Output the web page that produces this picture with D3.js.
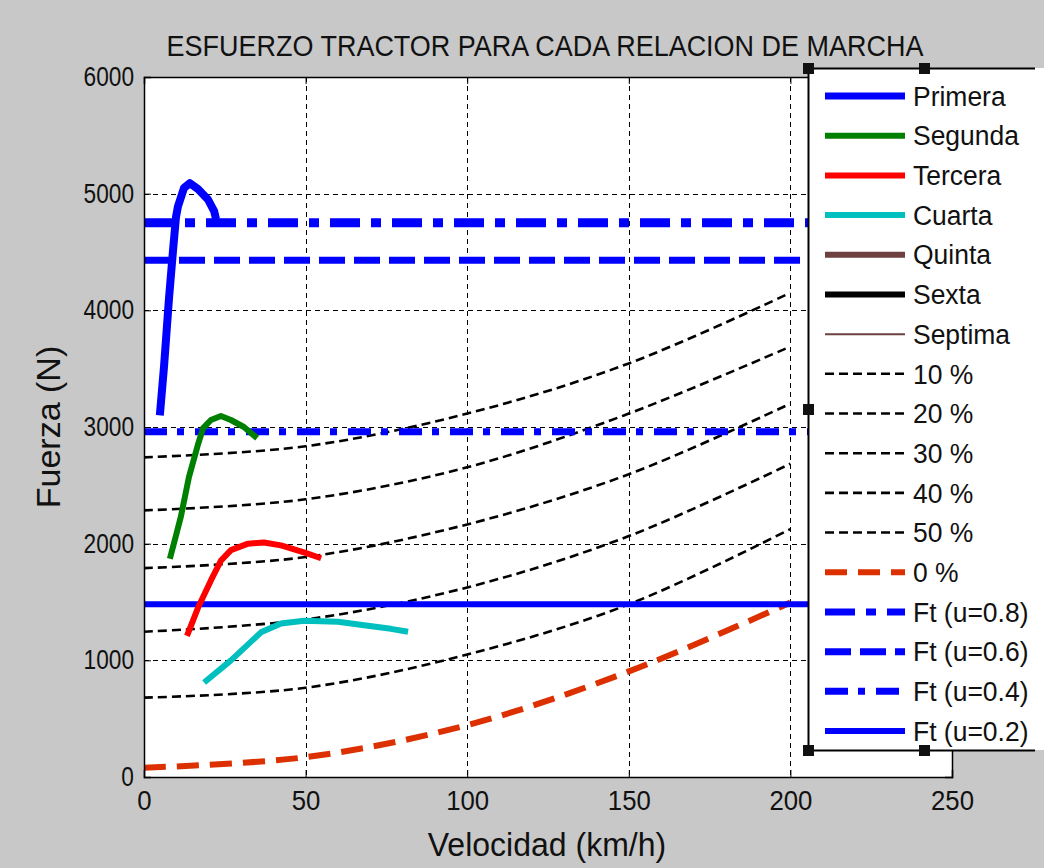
<!DOCTYPE html>
<html>
<head>
<meta charset="utf-8">
<script src="https://cdn.jsdelivr.net/npm/d3@7"></script>
<style>
  body { margin: 0; background: #c8c8c8; }
  svg { display: block; }
  text { font-family: "Liberation Sans", Arial, Helvetica, sans-serif; fill: #111; }
</style>
</head>
<body>
<div id="chart"></div>
<script>
// tick values
const xTicks = [0, 50, 100, 150, 200, 250]
const yTicks = [0, 1000, 2000, 3000, 4000, 5000, 6000]

// gear curves (speed km/h, force N)
const primeraV = [4.9, 6.2, 7.7, 9.0, 9.9, 10.5, 12.4, 14.2, 16.7, 19.8, 21.7, 22.3]
const primeraF = [3100, 3520, 4090, 4520, 4800, 4890, 5050, 5090, 5040, 4950, 4850, 4780]
const segundaV = [8.0, 9.9, 11.4, 13.9, 16.7, 18.3, 20.7, 23.8, 26.9, 30.9, 35.0]
const segundaF = [1870, 2070, 2230, 2570, 2850, 2990, 3060, 3095, 3060, 3000, 2905]
const terceraV = [13.3, 16.7, 20.7, 23.8, 26.9, 32.2, 37.1, 42.4, 49.5, 54.8]
const terceraF = [1210, 1450, 1685, 1855, 1945, 2000, 2010, 1985, 1925, 1875]
const cuartaV = [18.6, 26.9, 36.2, 42.4, 49.5, 60.0, 68.1, 76.4, 81.7]
const cuartaF = [810, 1000, 1240, 1315, 1340, 1330, 1300, 1270, 1245]

// road resistance for each slope
const slopeV = [0, 50, 100, 150, 200]
const slope50 = [2740, 2835, 3115, 3545, 4150]
const slope40 = [2285, 2380, 2655, 3115, 3690]
const slope30 = [1790, 1885, 2165, 2595, 3200]
const slope20 = [1245, 1350, 1625, 2065, 2685]
const slope10 = [680, 765, 1050, 1480, 2125]
const slope0 = [80, 170, 445, 905, 1495]

// adherence limits Ft for each u
const ftU = [0.8, 0.6, 0.4, 0.2]
const ftValues = [4750, 4430, 2960, 1480]

const legendLabels = ["Primera", "Segunda", "Tercera", "Cuarta", "Quinta", "Sexta", "Septima",
  "10 %", "20 %", "30 %", "40 %", "50 %", "0 %",
  "Ft (u=0.8)", "Ft (u=0.6)", "Ft (u=0.4)", "Ft (u=0.2)"]

// line styles, same order as the legend
const styles = [
  { color: "#0000ff", width: 8, dash: null },
  { color: "#008000", width: 6, dash: null },
  { color: "#ff0000", width: 6, dash: null },
  { color: "#00bfbf", width: 6, dash: null },
  { color: "#6e4040", width: 6, dash: null },
  { color: "#000000", width: 6, dash: null },
  { color: "#6e4040", width: 2, dash: null },
  { color: "#000000", width: 2.6, dash: "9,5" },
  { color: "#000000", width: 2.6, dash: "9,5" },
  { color: "#000000", width: 2.6, dash: "9,5" },
  { color: "#000000", width: 2.6, dash: "9,5" },
  { color: "#000000", width: 2.6, dash: "9,5" },
  { color: "#dc3000", width: 6, dash: "22,11" },
  { color: "#0000ff", width: 9, dash: "30,11,10,11" },
  { color: "#0000ff", width: 7, dash: "26,9" },
  { color: "#0000ff", width: 7, dash: "23,10,7,11" },
  { color: "#0000ff", width: 6, dash: null }
]

const W = 1044, H = 868
const pLeft = 144, pRight = 952, pTop = 77, pBottom = 777

const svg = d3.select("#chart").append("svg")
  .attr("width", W)
  .attr("height", H)

svg.append("rect").attr("width", W).attr("height", H).attr("fill", "#c8c8c8")

let x = d3.scaleLinear().domain([0, 250]).range([pLeft, pRight])
let y = d3.scaleLinear().domain([0, 6000]).range([pBottom, pTop])

svg.append("rect")
  .attr("x", pLeft).attr("y", pTop)
  .attr("width", pRight - pLeft).attr("height", pBottom - pTop)
  .attr("fill", "#fff")

svg.append("clipPath").attr("id", "clip")
  .append("rect")
  .attr("x", pLeft).attr("y", pTop)
  .attr("width", pRight - pLeft).attr("height", pBottom - pTop)

// grid
let grid = svg.append("g").attr("stroke", "#000").attr("stroke-width", 1).attr("stroke-dasharray", "5,4")
grid.selectAll(".gx").data(xTicks.slice(1, -1)).enter().append("line")
  .attr("x1", d => Math.round(x(d)) + 0.5).attr("x2", d => Math.round(x(d)) + 0.5)
  .attr("y1", pTop).attr("y2", pBottom)
grid.selectAll(".gy").data(yTicks.slice(1, -1)).enter().append("line")
  .attr("y1", d => Math.round(y(d)) + 0.5).attr("y2", d => Math.round(y(d)) + 0.5)
  .attr("x1", pLeft).attr("x2", pRight)

let plot = svg.append("g").attr("clip-path", "url(#clip)")

let line = d3.line()
  .x(d => x(d[0]))
  .y(d => y(d[1]))

function drawLine(vs, fs, st, curve) {
  plot.append("path")
    .datum(vs.map((v, i) => [v, fs[i]]))
    .attr("d", line.curve(curve || d3.curveLinear))
    .attr("fill", "none")
    .attr("stroke", st.color)
    .attr("stroke-width", st.width)
    .attr("stroke-dasharray", st.dash)
    .attr("stroke-linejoin", "round")
}

// slope resistance curves
const slopes = [slope10, slope20, slope30, slope40, slope50]
slopes.forEach((s, i) => drawLine(slopeV, s, styles[7 + i], d3.curveCatmullRom))
drawLine(slopeV, slope0, styles[12], d3.curveCatmullRom)

// adherence limits
ftValues.forEach((f, i) => drawLine([0, 250], [f, f], styles[13 + i]))

// gears
drawLine(primeraV, primeraF, styles[0])
drawLine(segundaV, segundaF, styles[1])
drawLine(terceraV, terceraF, styles[2])
drawLine(cuartaV, cuartaF, styles[3])

// axes
let xAxis = svg.append("g")
  .attr("transform", "translate(0," + pBottom + ")")
  .call(d3.axisBottom(x).tickValues(xTicks).tickSize(-7).tickPadding(13))
let yAxis = svg.append("g")
  .attr("transform", "translate(" + pLeft + ",0)")
  .call(d3.axisLeft(y).tickValues(yTicks).tickSize(-7).tickPadding(10).tickFormat(d3.format("d")))
svg.append("g")
  .attr("transform", "translate(0," + pTop + ")")
  .call(d3.axisTop(x).tickValues(xTicks).tickSize(-7).tickFormat(""))
svg.append("g")
  .attr("transform", "translate(" + pRight + ",0)")
  .call(d3.axisRight(y).tickValues(yTicks).tickSize(-7).tickFormat(""))
svg.selectAll(".domain").attr("stroke", "#000").attr("stroke-width", 1.5)
svg.selectAll(".tick line").attr("stroke", "#000")
xAxis.selectAll("text").style("font-size", "28px").attr("dy", "0.71em")
yAxis.selectAll("text").style("font-size", "27px")

function condense(sel, f) {
  sel.each(function () {
    let w = this.getComputedTextLength()
    d3.select(this).attr("textLength", w * f).attr("lengthAdjust", "spacingAndGlyphs")
  })
}
condense(xAxis.selectAll("text"), 0.92)
condense(yAxis.selectAll("text"), 0.84)

// titles
let title = svg.append("text")
  .attr("x", 545).attr("y", 56)
  .attr("text-anchor", "middle")
  .style("font-size", "29px")
  .text("ESFUERZO TRACTOR PARA CADA RELACION DE MARCHA")
condense(title, 0.93)

let xLabel = svg.append("text")
  .attr("x", 547).attr("y", 856)
  .attr("text-anchor", "middle")
  .style("font-size", "33px")
  .text("Velocidad (km/h)")
condense(xLabel, 0.97)

let yLabel = svg.append("text")
  .attr("transform", "translate(60,427) rotate(-90)")
  .attr("text-anchor", "middle")
  .style("font-size", "34px")
  .text("Fuerza (N)")
condense(yLabel, 1.0)

// legend
const lgLeft = 808, lgTop = 68, lgBottom = 750, lgRight = 1035
svg.append("rect")
  .attr("x", lgLeft).attr("y", lgTop)
  .attr("width", lgRight - lgLeft + 20).attr("height", lgBottom - lgTop)
  .attr("fill", "#fff")
svg.append("path")
  .attr("d", "M" + lgRight + "," + (lgTop + 0.5) + "H" + (lgLeft + 0.5) + "V" + (lgBottom + 0.5) + "H" + lgRight)
  .attr("fill", "none").attr("stroke", "#000").attr("stroke-width", 2)

let ly = d3.scalePoint().domain(legendLabels).range([96, 731])
let items = svg.append("g").selectAll("g")
  .data(legendLabels)
  .enter().append("g")
  .attr("transform", d => "translate(0," + ly(d) + ")")
items.append("line")
  .attr("x1", 825).attr("x2", 905)
  .attr("stroke", (d, i) => styles[i].color)
  .attr("stroke-width", (d, i) => Math.min(styles[i].width, 7))
  .attr("stroke-dasharray", (d, i) => styles[i].dash)
items.append("text")
  .attr("x", 913).attr("dy", "0.36em")
  .style("font-size", "27px")
  .text(d => d)
condense(items.selectAll("text"), 0.98)

// selection handles on the legend box
const handles = [[lgLeft, lgTop], [924, lgTop], [lgLeft, 409], [lgLeft, lgBottom], [924, lgBottom]]
svg.append("g").selectAll("rect")
  .data(handles)
  .enter().append("rect")
  .attr("x", d => d[0] - 5).attr("y", d => d[1] - 5)
  .attr("width", 11).attr("height", 11)
  .attr("fill", "#111")
</script>
</body>
</html>
